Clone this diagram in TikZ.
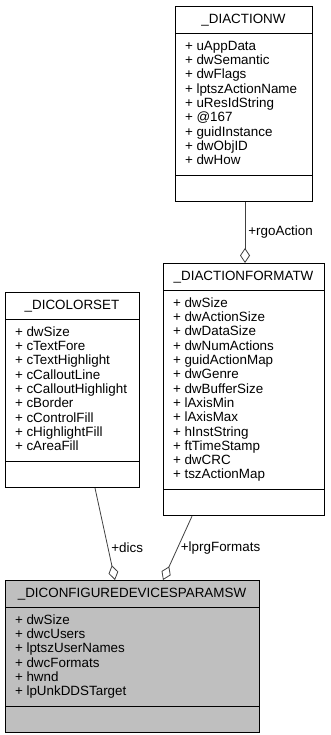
\documentclass[tikz,border=0pt]{standalone}
\usepackage{fontspec}
\setmainfont{Liberation Sans}
\usetikzlibrary{arrows.meta,shapes.multipart}
\definecolor{umledge}{HTML}{404040}
\definecolor{umlfocus}{HTML}{BFBFBF}
\newcommand{\umlfont}{\fontsize{13.4}{14.3}\selectfont}

\begin{document}
\begin{tikzpicture}[x=1pt, y=-1pt,
  umlclass/.style={draw=black, line width=1pt, fill=white, rectangle split, rectangle split parts=3,
                   rectangle split part align={center,left,left}, align=left, anchor=north,
                   inner xsep=10pt, inner ysep=6pt, font=\umlfont,
                   rectangle split empty part height=13pt, rectangle split empty part depth=0pt},
  aggr/.style={draw=umledge, line width=0.8pt, -{Diamond[open, length=15pt, width=10pt]}},
  role/.style={font=\umlfont, inner sep=3pt}
]
\useasboundingbox (0,0) rectangle (331,735);

\node[umlclass, minimum width=137pt] (actionw) at (243.5,6)
  {\strut\_DIACTIONW
   \nodepart{two}\strut+ uAppData\\+ dwSemantic\\+ dwFlags\\+ lptszActionName\\+ uResIdString\\
     + @167\\+ guidInstance\\+ dwObjID\\+ dwHow\strut
   \nodepart{three}};
\node[umlclass, minimum width=161pt] (actionformatw) at (243.5,263)
  {\strut\_DIACTIONFORMATW
   \nodepart{two}\strut+ dwSize\\+ dwActionSize\\+ dwDataSize\\+ dwNumActions\\+ guidActionMap\\
     + dwGenre\\+ dwBufferSize\\+ lAxisMin\\+ lAxisMax\\+ hInstString\\+ ftTimeStamp\\
     + dwCRC\\+ tszActionMap\strut
   \nodepart{three}};
\node[umlclass, minimum width=134pt] (colorset) at (72,292)
  {\strut\_DICOLORSET
   \nodepart{two}\strut+ dwSize\\+ cTextFore\\+ cTextHighlight\\+ cCalloutLine\\
     + cCalloutHighlight\\+ cBorder\\+ cControlFill\\+ cHighlightFill\\+ cAreaFill\strut
   \nodepart{three}};
\node[umlclass, fill=umlfocus, minimum width=254pt] (config) at (132,580)
  {\strut\_DICONFIGUREDEVICESPARAMSW
   \nodepart{two}\strut+ dwSize\\+ dwcUsers\\+ lptszUserNames\\+ dwcFormats\\+ hwnd\\
     + lpUnkDDSTarget\strut
   \nodepart{three}};

% aggregation links, diamond on the owning class
\draw[aggr] ([xshift=1.5pt]actionw.south) -- node[role, right, midway] {+rgoAction}
  ([xshift=1.5pt]actionformatw.north);
\draw[aggr] ([xshift=23pt]colorset.south) -- node[role, right, pos=0.65] {+dics}
  ([xshift=-17pt]config.north);
\draw[aggr] ([xshift=-51.5pt]actionformatw.south) -- node[role, right, pos=0.5] {+lprgFormats}
  ([xshift=31pt]config.north);
\end{tikzpicture}
\end{document}
